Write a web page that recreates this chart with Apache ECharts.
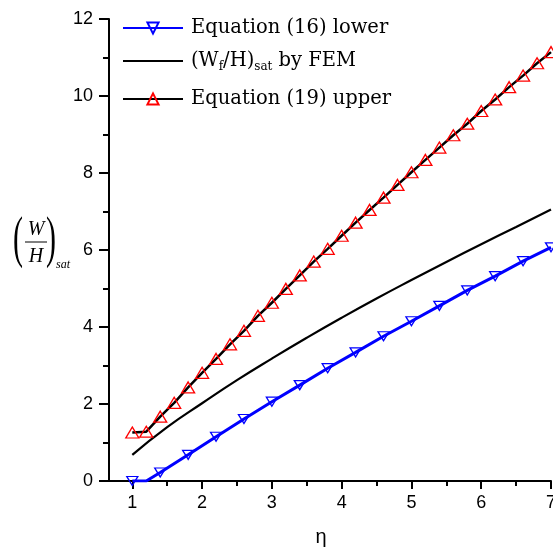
<!DOCTYPE html>
<html><head><meta charset="utf-8">
<script src="https://cdn.jsdelivr.net/npm/echarts@6/dist/echarts.min.js"></script>
<style>html,body{margin:0;padding:0;background:#fff}#c{width:553px;height:550px}</style>
</head><body><div id="c"></div>
<script>
// ---- data ----
const etaUpper = [1.0,1.2,1.4,1.6,1.8,2.0,2.2,2.4,2.6,2.8,3.0,3.2,3.4,3.6,3.8,4.0,4.2,4.4,4.6,4.8,5.0,5.2,5.4,5.6,5.8,6.0,6.2,6.4,6.6,6.8,7.0];
const upperValues = [1.26,1.28,1.67,2.03,2.43,2.81,3.17,3.55,3.90,4.29,4.63,4.99,5.34,5.70,6.03,6.37,6.71,7.04,7.36,7.69,8.02,8.34,8.66,8.98,9.28,9.61,9.91,10.23,10.53,10.85,11.14];
const etaLower = [1.0,1.2,1.4,1.8,2.2,2.6,3.0,3.4,3.8,4.2,4.6,5.0,5.4,5.8,6.2,6.6,7.0];
const lowerValues = [0,0,0.22,0.68,1.15,1.61,2.06,2.49,2.93,3.34,3.76,4.15,4.55,4.95,5.32,5.71,6.07];
const lowerMarkerHidden = [1.2];
const etaFem = [1.0,1.5,2.0,2.5,3.0,3.5,4.0,4.5,5.0,5.5,6.0,6.5,7.0];
const femValues = [0.68,1.40,2.02,2.62,3.18,3.72,4.24,4.74,5.22,5.69,6.15,6.60,7.05];
const xTicks = [1,2,3,4,5,6,7];
const xMinorTicks = [1.5,2.5,3.5,4.5,5.5,6.5];
const seriesNames = ['Equation (16) lower', '(W_f/H)_sat by FEM', 'Equation (19) upper'];

// ---- chart ----
const chart = echarts.init(document.getElementById('c'), null, {renderer: 'canvas'});
const sansFont = 'Liberation Sans';
const serifFont = 'DejaVu Serif';
const xMin = 0.666, xMax = 7;

const legendText = {
  color: '#000', fontFamily: serifFont, fontSize: 19.5, lineHeight: 24, padding: [0,0,0,3],
  rich: {
    n: {fontFamily: serifFont, fontSize: 19.5, lineHeight: 24, color: '#000'},
    s: {fontFamily: serifFont, fontSize: 12, lineHeight: 2, verticalAlign: 'bottom', color: '#000'}
  }
};
function legendFmt(name) {
  if (name === seriesNames[1]) return '{n|(W}{s|f}{n|/H)}{s|sat}{n| by FEM}';
  return '{n|' + name + '}';
}
function mkLegend(top, item) {
  return {
    left: 122, top: top, orient: 'vertical', padding: 0, itemWidth: 60, itemHeight: 14,
    selectedMode: false, data: [item], formatter: legendFmt, textStyle: legendText
  };
}

const option = {
  animation: false,
  backgroundColor: '#fff',
  grid: {left: 109, right: 2, top: 19, bottom: 69, containLabel: false, outerBoundsMode: 'none'},
  legend: [
    mkLegend(16, seriesNames[0]),
    mkLegend(49, {name: seriesNames[1], itemStyle: {color: 'transparent', borderColor: 'transparent', borderWidth: 0, opacity: 0}}),
    mkLegend(87, seriesNames[2])
  ],
  xAxis: [{
    type: 'value', min: xMin, max: xMax, position: 'bottom',
    name: 'η', nameLocation: 'middle', nameGap: 46,
    nameTextStyle: {fontFamily: sansFont, fontSize: 20, color: '#000', padding: [0, 18, 0, 0]},
    axisLine: {show: true, onZero: false, lineStyle: {color: '#000', width: 2}},
    axisTick: {show: true, customValues: xTicks, length: 8, lineStyle: {color: '#000', width: 2}},
    axisLabel: {customValues: xTicks, margin: 13, fontFamily: sansFont, fontSize: 18, color: '#000'},
    splitLine: {show: false}
  }, {
    type: 'value', min: xMin, max: xMax, position: 'bottom', offset: 0,
    axisLine: {show: false},
    axisTick: {show: true, customValues: xMinorTicks, length: 5, lineStyle: {color: '#000', width: 2}},
    axisLabel: {show: false},
    splitLine: {show: false}
  }],
  yAxis: {
    type: 'value', min: 0, max: 12, interval: 2,
    axisLine: {show: true, onZero: false, lineStyle: {color: '#000', width: 2}},
    axisTick: {show: true, length: 10, lineStyle: {color: '#000', width: 2}},
    minorTick: {show: true, splitNumber: 2, length: 6, lineStyle: {color: '#000', width: 2}},
    axisLabel: {margin: 16, fontFamily: sansFont, fontSize: 18, color: '#000'},
    splitLine: {show: false}
  },
  series: [{
    name: seriesNames[1], type: 'line', xAxisIndex: 0,
    data: etaFem.map((x, i) => [x, femValues[i]]),
    smooth: true, showSymbol: false, symbol: 'circle',
    lineStyle: {color: '#000', width: 2.2}, itemStyle: {color: '#000'}
  }, {
    name: seriesNames[0], type: 'line', xAxisIndex: 0,
    data: etaLower.map((x, i) => lowerMarkerHidden.includes(x) ? {value: [x, lowerValues[i]], symbol: 'none'} : [x, lowerValues[i]]),
    symbol: 'triangle', symbolRotate: 180, symbolSize: [11, 9], showAllSymbol: true,
    lineStyle: {color: '#0000ff', width: 3},
    itemStyle: {color: 'transparent', borderColor: '#0000ff', borderWidth: 1.3}
  }, {
    name: seriesNames[2], type: 'line', xAxisIndex: 0,
    data: etaUpper.map((x, i) => [x, upperValues[i]]),
    symbol: 'triangle', symbolSize: [13, 11], showAllSymbol: true,
    lineStyle: {color: '#000', width: 2.5},
    itemStyle: {color: 'transparent', borderColor: '#ff0000', borderWidth: 1.3}
  }],
  graphic: [
    {type: 'text', x: 18, y: 241, scaleX: 1, scaleY: 1.9, style: {x: 0, y: 0, text: '(', font: '30px "Liberation Serif"', fill: '#000', textAlign: 'center', textVerticalAlign: 'middle'}},
    {type: 'text', style: {x: 36, y: 230, text: 'W', font: 'italic 20px "Liberation Serif"', fill: '#000', textAlign: 'center', textVerticalAlign: 'middle'}},
    {type: 'line', shape: {x1: 25, y1: 242, x2: 47, y2: 242}, style: {stroke: '#000', lineWidth: 1}},
    {type: 'text', style: {x: 36, y: 257, text: 'H', font: 'italic 20px "Liberation Serif"', fill: '#000', textAlign: 'center', textVerticalAlign: 'middle'}},
    {type: 'text', x: 51, y: 241, scaleX: 1, scaleY: 1.9, style: {x: 0, y: 0, text: ')', font: '30px "Liberation Serif"', fill: '#000', textAlign: 'center', textVerticalAlign: 'middle'}},
    {type: 'text', style: {x: 56, y: 265, text: 'sat', font: 'italic 12px "Liberation Serif"', fill: '#000', textAlign: 'left', textVerticalAlign: 'middle'}}
  ]
};
chart.setOption(option);
</script>
</body></html>
